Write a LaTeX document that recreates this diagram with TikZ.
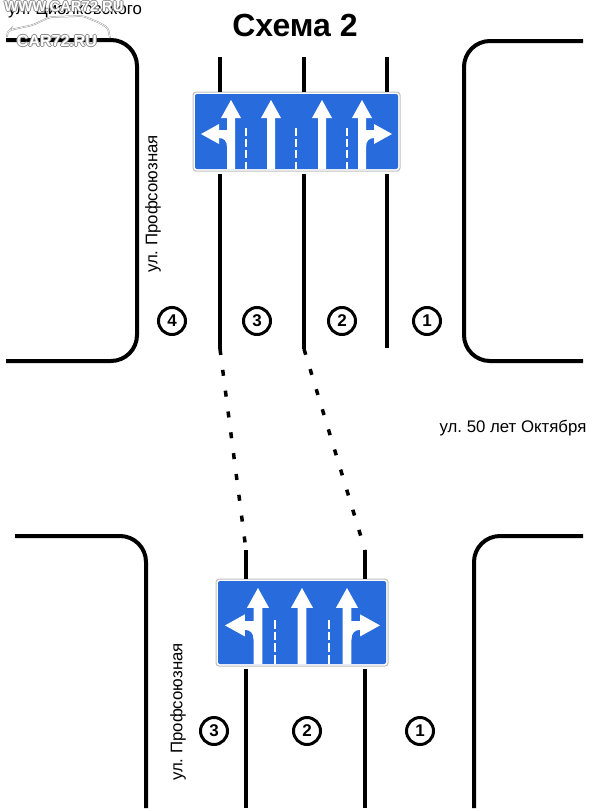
\documentclass[tikz,border=0pt]{standalone}
\usepackage{fontspec}
\setmainfont{Liberation Sans}
\frenchspacing
\usetikzlibrary{positioning}
\definecolor{signblue}{RGB}{40,107,220}
\definecolor{rim}{RGB}{190,190,190}
\tikzset{
  curb/.style={draw=black,line width=4pt,rounded corners=26pt},
  laneline/.style={draw=black,line width=3.5pt},
  lanegap/.style={laneline,dash pattern=on 6pt off 15pt},
  signplate/.style={draw=rim,line width=1pt,fill=white,rounded corners=3pt,inner sep=0pt},
  signface/.style={fill=signblue,rounded corners=2pt,inner sep=0pt},
  signdash/.style={draw=white,line width=2.6pt,dash pattern=on 8pt off 3.2pt},
  lanemark/.style={circle,draw=black,line width=3pt,minimum size=27pt,inner sep=0pt,font=\fontsize{17}{17}\selectfont\bfseries},
  street/.style={font=\fontsize{16.8}{18}\selectfont},
  markshadow/.style={text=black!45,font=\fontsize{#1}{16}\selectfont\bfseries},
  markface/.style={text=white,font=\fontsize{#1}{16}\selectfont\bfseries},
  % pictograms
  pics/laneup/.style={code={
    \fill[white] (0,0) -- (10,18) -- (4,18) -- (4,69) -- (-4,69) -- (-4,18) -- (-10,18) -- cycle;
  }},
  pics/laneturn/.style={code={
    \fill[white] (-30,34) -- (-12,24) -- (-12,30) -- (-3,30) -- (-3,47) -- (-4,47) .. controls (-4,41) and (-7,38) .. (-12,38) -- (-12,44) -- cycle;
  }},
}
\begin{document}
\begin{tikzpicture}[x=1pt,y=-1pt]
  \useasboundingbox (0,0) rectangle (596,811);
  % curbs
  \draw[curb] (6,40) -- (137,40) -- (137,361) -- (6,361);
  \draw[curb] (583,41) -- (464,41) -- (464,361) -- (583,361);
  \draw[curb] (15,536) -- (146,536) -- (146,808);
  \draw[curb] (583,536) -- (474,536) -- (474,808);
  % upper sign
  \node[signplate,minimum width=207pt,minimum height=79pt] (signA) at (296.5,131.5) {};
  \node[signface,minimum width=203pt,minimum height=75pt] (faceA) at (signA) {};
  \foreach \x in {231,271,322,362}
    \pic at (\x,100) {laneup};
  \pic at (231,100) {laneturn};
  \pic[xscale=-1] at (362,100) {laneturn};
  \foreach \x in {246,296,347}
    \draw[signdash] (\x,128) -- (\x,169);
  % lower sign
  \node[signplate,minimum width=172pt,minimum height=87pt] (signB) at (302,622.5) {};
  \node[signface,minimum width=168pt,minimum height=83pt] (faceB) at (signB) {};
  \foreach \x in {258,302,347}
    \pic[scale=1.1] at (\x,588) {laneup};
  \pic[scale=1.1] at (258,588) {laneturn};
  \pic[xscale=-1.1,yscale=1.1] at (347,588) {laneturn};
  \foreach \x in {275,329}
    \draw[signdash,dash pattern=on 8.5pt off 3.2pt] (\x,620) -- (\x,664);
  % lane lines
  \coordinate (upA) at (220,57);
  \coordinate (upB) at (304,57);
  \coordinate (upC) at (387,57);
  \coordinate (endA) at (220,349);
  \coordinate (endB) at (304,349);
  \coordinate (endC) at (387,348);
  \coordinate (lowA) at (246,550);
  \coordinate (lowB) at (365,550);
  \coordinate (footA) at (246,808);
  \coordinate (footB) at (365,808);
  \foreach \a/\b in {upA/endA,upB/endB,upC/endC}{
    \draw[laneline] (\a) -- (\a |- signA.north);
    \draw[laneline,shorten <=2pt] (\a |- signA.south) -- (\b);
  }
  \foreach \a/\b in {lowA/footA,lowB/footB}{
    \draw[laneline] (\a) -- (\a |- signB.north);
    \draw[laneline,shorten <=2pt] (\a |- signB.south) -- (\b);
  }
  \draw[lanegap] (endA) -- (lowA);
  \draw[lanegap] (endB) -- (lowB);
  % lane numbers
  \foreach \n/\x/\l in {m4/172/4,m3/257/3,m2/342/2,m1/427/1}
    \node[lanemark] (\n) at (\x,321) {\l};
  \foreach \n/\x/\l in {k3/214/3,k2/307/2,k1/420/1}
    \node[lanemark] (\n) at (\x,731) {\l};
  % texts
  \node[font=\fontsize{32}{34}\selectfont\bfseries] (title) at (295,25) {Схема 2};
  \node[street,rotate=90] (profA) at (153,204) {ул. Профсоюзная};
  \node[street,rotate=90] (profB) at (178,712) {ул. Профсоюзная};
  \node[street] (octob) at (513,428) {ул. 50 лет Октября};
  \node[street,anchor=west,inner sep=0pt] (ciol) at (8,10) {ул. Циолковского};
  % watermark
  \draw[black!40,line width=1.6pt,rounded corners=3pt] (7,37) -- (7,33) -- (10,30) -- (33,25) -- (50,17) -- (83,16) -- (100,23) -- (108,28) -- (110,38);
  \draw[white,line width=.6pt,rounded corners=3pt] (7,37) -- (7,33) -- (10,30) -- (33,25) -- (50,17) -- (83,16) -- (100,23) -- (108,28) -- (110,38);
  \foreach \dx/\dy in {-1/0,1/0,0/-1,0/1}{
    \node[markshadow=14.8,inner sep=0pt] at (64+\dx,6+\dy) {WWW.CAR72.RU};
    \node[markshadow=16,inner sep=0pt] at (57+\dx,41+\dy) {CAR72.RU};
  }
  \node[markface=14.8,inner sep=0pt] (wwwmark) at (64,6) {WWW.CAR72.RU};
  \node[markface=16,inner sep=0pt] (carmark) at (57,41) {CAR72.RU};
\end{tikzpicture}
\end{document}
